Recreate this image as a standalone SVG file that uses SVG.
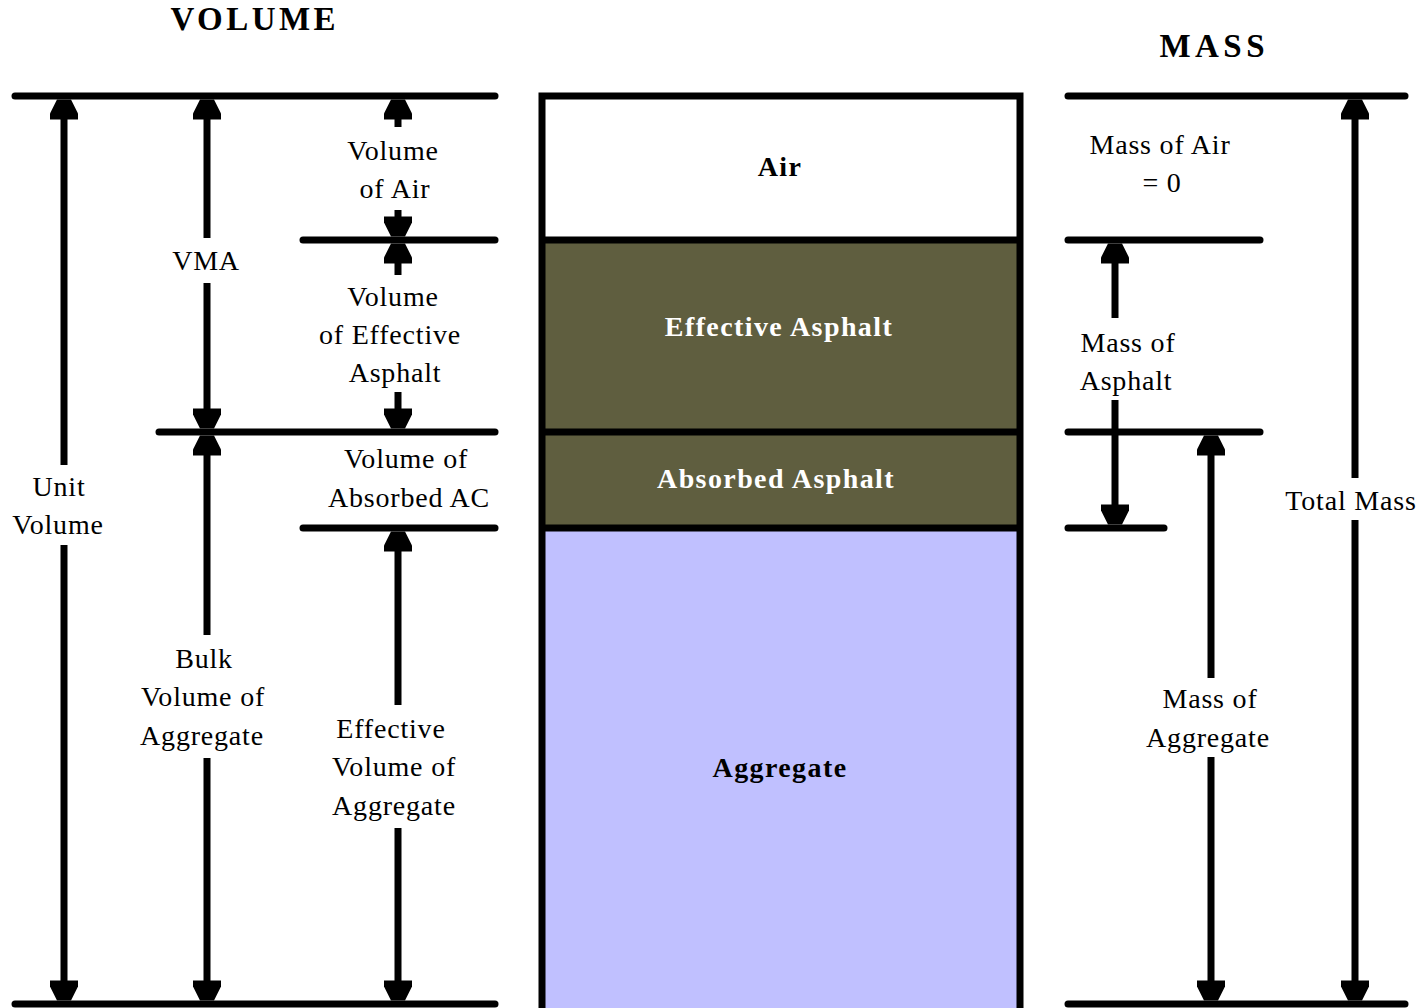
<svg xmlns="http://www.w3.org/2000/svg" width="1425" height="1008" viewBox="0 0 1425 1008">
<style>
.ln{stroke:#000;stroke-width:7;stroke-linecap:round;fill:none}
.st{stroke:#000;stroke-width:7;fill:none}
.t{font-family:"Liberation Serif","Times New Roman",serif;font-size:28px;fill:#000;text-anchor:middle;letter-spacing:0.8px}
.b{font-family:"Liberation Serif","Times New Roman",serif;font-size:28px;font-weight:bold;text-anchor:middle;letter-spacing:1.4px}
.h{font-family:"Liberation Serif","Times New Roman",serif;font-size:33px;font-weight:bold;fill:#000;text-anchor:middle}
</style>
<defs>
<polygon id="up" points="-7,0 7,0 14,14 14,20 -14,20 -14,14" fill="#000"/>
<polygon id="dn" points="-7,0 7,0 14,-14 14,-20 -14,-20 -14,-14" fill="#000"/>
</defs>
<rect width="1425" height="1008" fill="#fff"/>

<g id="titles">
<text class="h" x="253" y="30" textLength="165" lengthAdjust="spacing">VOLUME</text>
<text class="h" x="1212" y="57" textLength="105" lengthAdjust="spacing">MASS</text>
</g>

<g id="column">
<rect x="542" y="96" width="478" height="144" fill="#fff"/>
<rect x="542" y="240" width="478" height="192" fill="#5f5e3f"/>
<rect x="542" y="432" width="478" height="96" fill="#5f5e3f"/>
<rect x="542" y="528" width="478" height="485" fill="#c0c0ff"/>
<path class="st" d="M542,1012 V96 H1020 V1012"/>
<line class="st" x1="542" y1="240" x2="1020" y2="240"/>
<line class="st" x1="542" y1="432" x2="1020" y2="432"/>
<line class="st" x1="542" y1="528" x2="1020" y2="528"/>
</g>
<g id="node-air"><text class="b" x="780" y="176" fill="#000">Air</text></g>
<g id="node-effective-asphalt"><text class="b" x="779" y="336" fill="#fff">Effective Asphalt</text></g>
<g id="node-absorbed-asphalt"><text class="b" x="776" y="488" fill="#fff">Absorbed Asphalt</text></g>
<g id="node-aggregate"><text class="b" x="780" y="777" fill="#000">Aggregate</text></g>

<g id="connectors">
<!-- left reference lines -->
<line class="ln" x1="15" y1="96" x2="495" y2="96"/>
<line class="ln" x1="303" y1="240" x2="495" y2="240"/>
<line class="ln" x1="159" y1="432" x2="495" y2="432"/>
<line class="ln" x1="303" y1="528" x2="495" y2="528"/>
<line class="ln" x1="15" y1="1004" x2="495" y2="1004"/>
<!-- right reference lines -->
<line class="ln" x1="1068" y1="96" x2="1405" y2="96"/>
<line class="ln" x1="1068" y1="240" x2="1260" y2="240"/>
<line class="ln" x1="1068" y1="432" x2="1260" y2="432"/>
<line class="ln" x1="1068" y1="528" x2="1164" y2="528"/>
<line class="ln" x1="1068" y1="1004" x2="1405" y2="1004"/>

<!-- Unit Volume x=64 -->
<line class="st" x1="64" y1="110" x2="64" y2="465"/>
<line class="st" x1="64" y1="545" x2="64" y2="990"/>
<use href="#up" x="64" y="99.5"/>
<use href="#dn" x="64" y="1000.5"/>

<!-- VMA x=207 -->
<line class="st" x1="207" y1="110" x2="207" y2="238"/>
<line class="st" x1="207" y1="283" x2="207" y2="415"/>
<use href="#up" x="207" y="99.5"/>
<use href="#dn" x="207" y="428.5"/>
<!-- Bulk volume x=207 -->
<line class="st" x1="207" y1="445" x2="207" y2="635"/>
<line class="st" x1="207" y1="758" x2="207" y2="990"/>
<use href="#up" x="207" y="435.5"/>
<use href="#dn" x="207" y="1000.5"/>

<!-- Volume of Air x=398 -->
<line class="st" x1="398" y1="110" x2="398" y2="127"/>
<line class="st" x1="398" y1="210" x2="398" y2="225"/>
<use href="#up" x="398" y="99.5"/>
<use href="#dn" x="398" y="236.5"/>
<!-- Volume of Effective Asphalt -->
<line class="st" x1="398" y1="255" x2="398" y2="275"/>
<line class="st" x1="398" y1="392" x2="398" y2="415"/>
<use href="#up" x="398" y="243.5"/>
<use href="#dn" x="398" y="428.5"/>
<!-- Effective Volume of Aggregate -->
<line class="st" x1="398" y1="541" x2="398" y2="705"/>
<line class="st" x1="398" y1="828" x2="398" y2="990"/>
<use href="#up" x="398" y="531.5"/>
<use href="#dn" x="398" y="1000.5"/>

<!-- Mass of Asphalt x=1115 -->
<line class="st" x1="1115" y1="255" x2="1115" y2="318"/>
<line class="st" x1="1115" y1="400" x2="1115" y2="512"/>
<use href="#up" x="1115" y="243.5"/>
<use href="#dn" x="1115" y="524.5"/>
<!-- Mass of Aggregate x=1211 -->
<line class="st" x1="1211" y1="445" x2="1211" y2="678"/>
<line class="st" x1="1211" y1="757" x2="1211" y2="990"/>
<use href="#up" x="1211" y="435.5"/>
<use href="#dn" x="1211" y="1000.5"/>
<!-- Total Mass x=1355 -->
<line class="st" x1="1355" y1="110" x2="1355" y2="478"/>
<line class="st" x1="1355" y1="520" x2="1355" y2="990"/>
<use href="#up" x="1355" y="99.5"/>
<use href="#dn" x="1355" y="1000.5"/>
</g>

<g id="labels">
<text class="t" x="393" y="160">Volume</text>
<text class="t" x="395" y="198">of Air</text>
<text class="t" x="206" y="270">VMA</text>
<text class="t" x="393" y="306">Volume</text>
<text class="t" x="390" y="344">of Effective</text>
<text class="t" x="395" y="382">Asphalt</text>
<text class="t" x="406" y="468">Volume of</text>
<text class="t" x="409" y="507">Absorbed AC</text>
<text class="t" x="59" y="496">Unit</text>
<text class="t" x="58" y="534">Volume</text>
<text class="t" x="204" y="668">Bulk</text>
<text class="t" x="203" y="706">Volume of</text>
<text class="t" x="202" y="745">Aggregate</text>
<text class="t" x="391" y="738">Effective</text>
<text class="t" x="394" y="776">Volume of</text>
<text class="t" x="394" y="815">Aggregate</text>
<text class="t" x="1160" y="154">Mass of Air</text>
<text class="t" x="1162" y="192">= 0</text>
<text class="t" x="1128" y="352">Mass of</text>
<text class="t" x="1126" y="390">Asphalt</text>
<text class="t" x="1210" y="708">Mass of</text>
<text class="t" x="1208" y="747">Aggregate</text>
<text class="t" x="1351" y="510">Total Mass</text>
</g>
</svg>
